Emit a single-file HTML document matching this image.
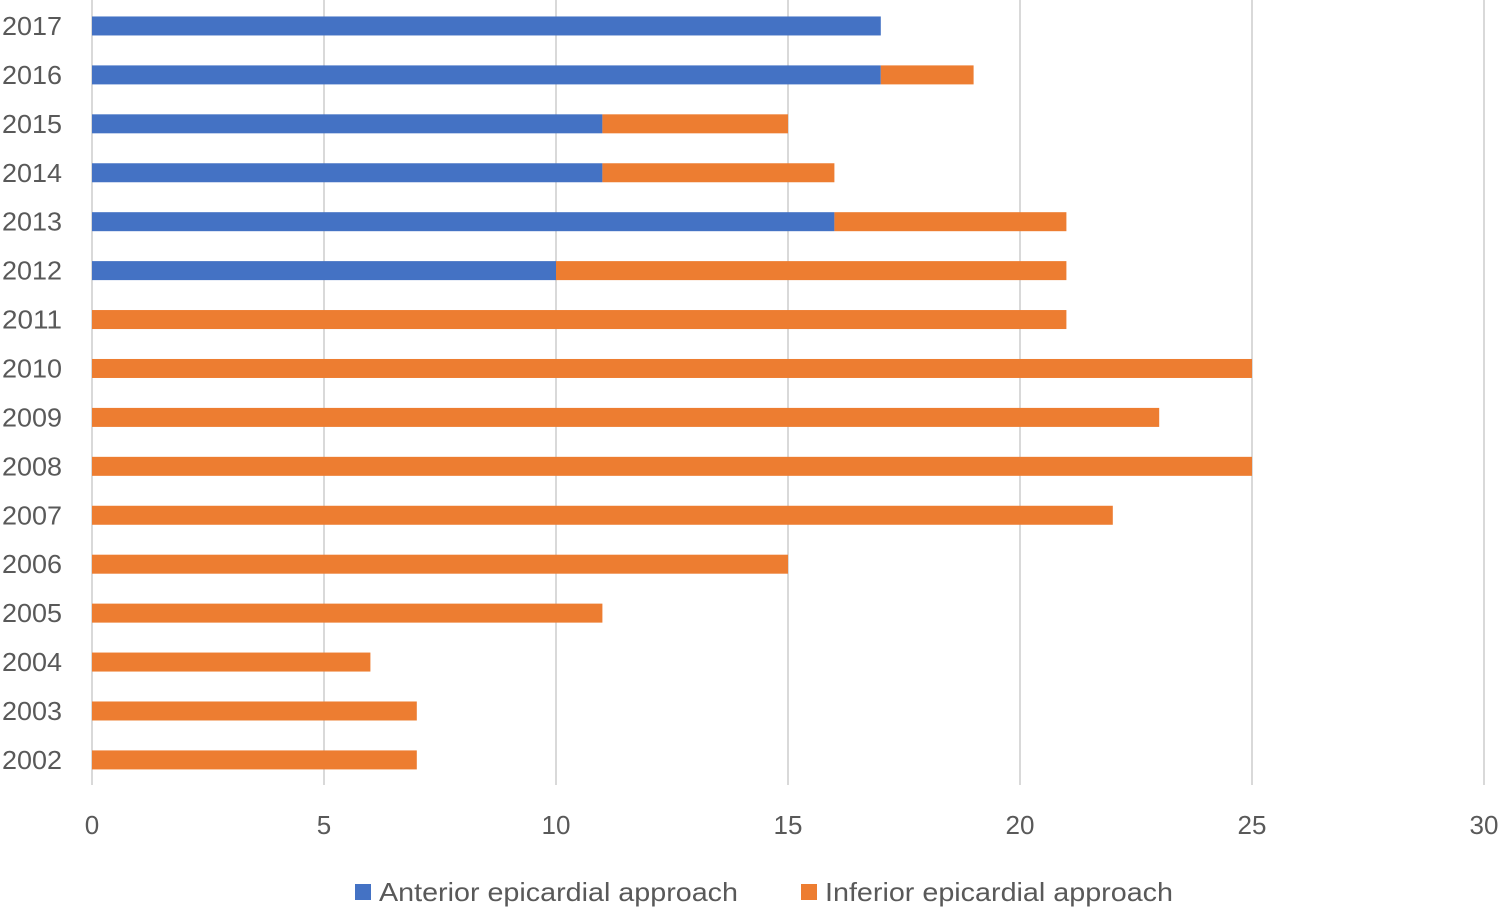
<!DOCTYPE html>
<html><head><meta charset="utf-8">
<style>
html,body{margin:0;padding:0;background:#fff;}
svg{display:block;font-family:"Liberation Sans","DejaVu Sans",sans-serif;}
</style></head>
<body>
<svg id="chart" width="1498" height="912" viewBox="0 0 1498 912"></svg>
<script>
const years = ["2017","2016","2015","2014","2013","2012","2011","2010","2009","2008","2007","2006","2005","2004","2003","2002"];
const anterior = [17,17,11,11,16,10,0,0,0,0,0,0,0,0,0,0];
const inferior = [0,2,4,5,5,11,21,25,23,25,22,15,11,6,7,7];
const xTicks = [0,5,10,15,20,25,30];

const svg = document.getElementById('chart');
const NS = 'http://www.w3.org/2000/svg';
const x0 = 92, x1 = 1484, xMax = 30;
const yTop = 1.5, band = 48.93, barH = 19;
const xs = v => x0 + v / xMax * (x1 - x0);
const yc = i => yTop + band * (i + 0.5);
function mk(tag, attrs){ const e=document.createElementNS(NS,tag); for(const k in attrs) e.setAttribute(k,attrs[k]); svg.appendChild(e); return e; }

xTicks.forEach(t=>{
  const g = mk('line',{x1:xs(t),x2:xs(t),y1:0,y2:785,stroke:'#d9d9d9','stroke-width':2});
  
  
  const l = mk('text',{x:xs(t),y:834,'text-anchor':'middle','font-size':26,fill:'#595959'});
  l.textContent = t;
  
  
});

years.forEach((yr,i)=>{
  const c = yc(i);
  const lab = mk('text',{x:2,y:c+9,'font-size':26,fill:'#595959',textLength:60,lengthAdjust:'spacingAndGlyphs'});
  lab.textContent = yr;
  
  
  if(anterior[i]>0){
    const b = mk('rect',{x:xs(0),y:c-barH/2,width:xs(anterior[i])-xs(0),height:barH,fill:'#4472C4'});
    
    
  }
  if(inferior[i]>0){
    const b = mk('rect',{x:xs(anterior[i]),y:c-barH/2,width:xs(anterior[i]+inferior[i])-xs(anterior[i]),height:barH,fill:'#ED7D31'});
    
    
  }
});

let s = mk('rect',{x:355,y:884,width:16,height:16,fill:'#4472C4'});


let t = mk('text',{x:379,y:901,'font-size':26,fill:'#595959',textLength:359,lengthAdjust:'spacingAndGlyphs'});
t.textContent='Anterior epicardial approach';


s = mk('rect',{x:801,y:884,width:16,height:16,fill:'#ED7D31'});


t = mk('text',{x:825,y:901,'font-size':26,fill:'#595959',textLength:348,lengthAdjust:'spacingAndGlyphs'});
t.textContent='Inferior epicardial approach';


</script>
</body></html>
